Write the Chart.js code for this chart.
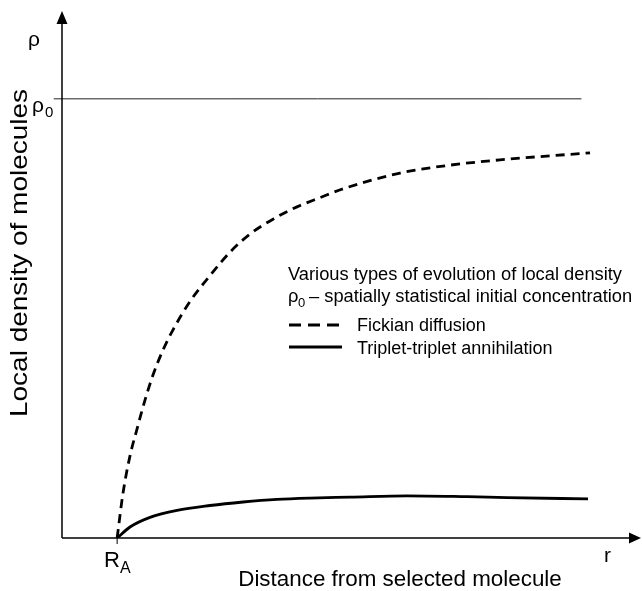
<!DOCTYPE html>
<html><head><meta charset="utf-8">
<script src="https://cdn.jsdelivr.net/npm/chart.js@4"></script>
<style>html,body{margin:0;padding:0;background:#fff}#wrap{width:642px;height:591px}</style>
</head><body><div id="wrap"><canvas id="c" width="642" height="591"></canvas></div>
<script>
// Distance r in units where R_A = 1; density in units of rho0
const fickianR   = [1.00, 1.106, 1.233, 1.360, 1.505, 1.650, 1.832, 2.013, 2.340, 2.720, 3.047, 3.409, 3.827, 4.262, 4.679, 5.096, 6.130, 7.037, 7.944, 9.576];
const fickianRho = [0.000, 0.102, 0.187, 0.248, 0.314, 0.371, 0.428, 0.474, 0.542, 0.603, 0.651, 0.692, 0.726, 0.754, 0.775, 0.795, 0.831, 0.849, 0.861, 0.877];
const tripletR   = [1.00, 1.233, 1.596, 2.086, 2.684, 3.283, 3.899, 4.498, 5.223, 6.257, 7.345, 8.070, 9.539];
const tripletRho = [0.000, 0.025, 0.047, 0.063, 0.074, 0.082, 0.088, 0.091, 0.093, 0.096, 0.094, 0.092, 0.089];
const rho0R   = [-0.15, 9.42];
const rho0Rho = [1, 1];
const RA = 1;
const seriesNames = ['Fickian diffusion', 'Triplet-triplet annihilation'];
const legendTitle = ['Various types of evolution of local density', '– spatially statistical initial concentration'];
const xTitle = 'Distance from selected molecule';
const yTitle = 'Local density of molecules';

const toPts = (xs, ys) => xs.map((x, i) => ({x, y: ys[i]}));
const FONT = '"Liberation Sans", Arial, Helvetica, sans-serif';

const overlay = {
  id: 'overlay',
  afterDatasetsDraw(chart) {
    const ctx = chart.ctx, xs = chart.scales.x, ys = chart.scales.y;
    const x0 = xs.getPixelForValue(0), y0 = ys.getPixelForValue(0);
    const top = chart.chartArea.top, right = chart.chartArea.right;
    ctx.save();
    ctx.strokeStyle = '#000'; ctx.fillStyle = '#000'; ctx.lineWidth = 1.5;
    // axes
    ctx.beginPath(); ctx.moveTo(x0, y0); ctx.lineTo(x0, top + 10); ctx.stroke();
    ctx.beginPath(); ctx.moveTo(x0, y0); ctx.lineTo(right - 10, y0); ctx.stroke();
    // arrows
    ctx.beginPath(); ctx.moveTo(x0, top); ctx.lineTo(x0 - 5.5, top + 13); ctx.lineTo(x0 + 5.5, top + 13); ctx.closePath(); ctx.fill();
    ctx.beginPath(); ctx.moveTo(right, y0); ctx.lineTo(right - 12, y0 - 5.5); ctx.lineTo(right - 12, y0 + 5.5); ctx.closePath(); ctx.fill();
    // tick at RA
    const xr = xs.getPixelForValue(RA);
    ctx.lineWidth = 1; ctx.beginPath(); ctx.moveTo(xr, y0); ctx.lineTo(xr, y0 + 6); ctx.stroke();
    // texts
    ctx.textBaseline = 'alphabetic'; ctx.textAlign = 'left';
    ctx.font = '21px ' + FONT;
    ctx.fillText('ρ', 28, 46);
    ctx.fillText('ρ', 32, 112);
    ctx.font = '15px ' + FONT; ctx.fillText('0', 45, 117);
    ctx.font = '22px ' + FONT;
    ctx.fillText('R', 104, 567);
    ctx.font = '16px ' + FONT; ctx.fillText('A', 120, 573);
    ctx.font = '21px ' + FONT;
    ctx.fillText('r', 604, 562);
    ctx.textAlign = 'center';
    ctx.font = '22.4px ' + FONT;
    ctx.fillText(xTitle, 400, 586);
    ctx.save();
    ctx.translate(27, 253); ctx.rotate(-Math.PI / 2);
    ctx.font = '24px ' + FONT;
    const w = ctx.measureText(yTitle).width;
    ctx.scale(328 / w, 1);
    ctx.fillText(yTitle, 0, 0);
    ctx.restore();
    // legend block
    ctx.textAlign = 'left';
    ctx.font = '18.3px ' + FONT;
    ctx.fillText(legendTitle[0], 288, 280);
    ctx.fillText('ρ', 288, 302);
    ctx.font = '13px ' + FONT; ctx.fillText('0', 298, 307);
    ctx.font = '18.3px ' + FONT; ctx.fillText(legendTitle[1], 309, 302);
    ctx.font = '18px ' + FONT;
    ctx.fillText(seriesNames[0], 357, 331);
    ctx.fillText(seriesNames[1], 357, 354);
    ctx.lineWidth = 2.8;
    ctx.setLineDash([12, 7]);
    ctx.beginPath(); ctx.moveTo(289, 325); ctx.lineTo(341, 325); ctx.stroke();
    ctx.setLineDash([]);
    ctx.beginPath(); ctx.moveTo(289, 347); ctx.lineTo(342, 347); ctx.stroke();
    ctx.restore();
  }
};

new Chart(document.getElementById('c'), {
  type: 'line',
  data: {
    datasets: [
      {label: 'rho0', data: toPts(rho0R, rho0Rho), borderColor: '#222', borderWidth: 1, pointRadius: 0, clip: false},
      {label: seriesNames[0], data: toPts(fickianR, fickianRho), borderColor: '#000', borderWidth: 2.8, borderDash: [9, 6], pointRadius: 0, cubicInterpolationMode: 'monotone'},
      {label: seriesNames[1], data: toPts(tripletR, tripletRho), borderColor: '#000', borderWidth: 2.8, pointRadius: 0, cubicInterpolationMode: 'monotone'}
    ]
  },
  options: {
    responsive: false, animation: false, devicePixelRatio: 1,
    layout: {padding: {left: 62, right: 1, top: 11, bottom: 53}},
    plugins: {legend: {display: false}, tooltip: {enabled: false}},
    scales: {
      x: {type: 'linear', min: 0, max: 10.5, display: false},
      y: {type: 'linear', min: 0, max: 1.2, display: false}
    }
  },
  plugins: [overlay]
});
</script></body></html>
